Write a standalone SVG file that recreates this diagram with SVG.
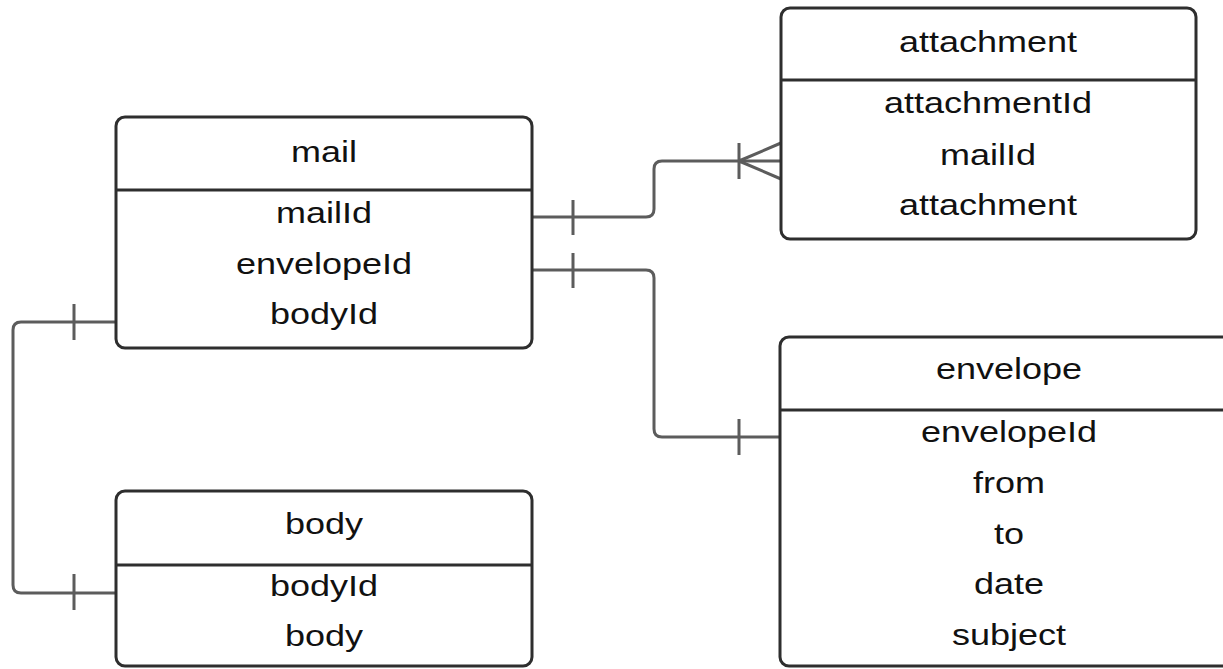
<svg xmlns="http://www.w3.org/2000/svg" width="1223" height="669" viewBox="0 0 1223 669">
<style>
.box{fill:#fff;stroke:#2e2e2e;stroke-width:3}
.div{stroke:#2e2e2e;stroke-width:3}
.t{font-family:"Liberation Sans",Arial,sans-serif;font-size:30px;fill:#111;text-anchor:middle}
.c{fill:none;stroke:#5c5c5c;stroke-width:3}
</style>
<rect width="1223" height="669" fill="#fff"/>
<g id="connectors">
<path class="c" d="M532 217 H646 Q654 217 654 209 V169 Q654 161 662 161 H781"/>
<path class="c" d="M573 200 V235 M739 143 V179 M739 161 L781 143 M739 161 L781 179"/>
<path class="c" d="M532 270 H646 Q654 270 654 278 V429 Q654 437 662 437 H780"/>
<path class="c" d="M573 253 V288 M739 419 V455"/>
<path class="c" d="M116 322 H21 Q13 322 13 330 V585 Q13 593 21 593 H116"/>
<path class="c" d="M74 304 V340 M74 574 V610"/>
</g>
<g id="mail">
<rect class="box" x="116" y="117" width="416" height="231" rx="9"/>
<line class="div" x1="116" y1="190" x2="532" y2="190"/>
<text class="t" transform="translate(324 162) scale(1.2 1)">mail</text>
<text class="t" transform="translate(324 223) scale(1.2 1)">mailId</text>
<text class="t" transform="translate(324 274) scale(1.2 1)">envelopeId</text>
<text class="t" transform="translate(324 324) scale(1.2 1)">bodyId</text>
</g>
<g id="attachment">
<rect class="box" x="781" y="8" width="415" height="231" rx="9"/>
<line class="div" x1="781" y1="80" x2="1196" y2="80"/>
<text class="t" transform="translate(988 52) scale(1.2 1)">attachment</text>
<text class="t" transform="translate(988 113) scale(1.2 1)">attachmentId</text>
<text class="t" transform="translate(988 165) scale(1.2 1)">mailId</text>
<text class="t" transform="translate(988 215) scale(1.2 1)">attachment</text>
</g>
<g id="envelope">
<rect class="box" x="780" y="337" width="460" height="329" rx="9"/>
<line class="div" x1="780" y1="410" x2="1240" y2="410"/>
<text class="t" transform="translate(1009 379) scale(1.2 1)">envelope</text>
<text class="t" transform="translate(1009 442) scale(1.2 1)">envelopeId</text>
<text class="t" transform="translate(1009 493) scale(1.2 1)">from</text>
<text class="t" transform="translate(1009 544) scale(1.2 1)">to</text>
<text class="t" transform="translate(1009 594) scale(1.2 1)">date</text>
<text class="t" transform="translate(1009 645) scale(1.2 1)">subject</text>
</g>
<g id="body">
<rect class="box" x="116" y="491" width="416" height="175" rx="9"/>
<line class="div" x1="116" y1="565" x2="532" y2="565"/>
<text class="t" transform="translate(324 534) scale(1.2 1)">body</text>
<text class="t" transform="translate(324 596) scale(1.2 1)">bodyId</text>
<text class="t" transform="translate(324 646) scale(1.2 1)">body</text>
</g>
</svg>
